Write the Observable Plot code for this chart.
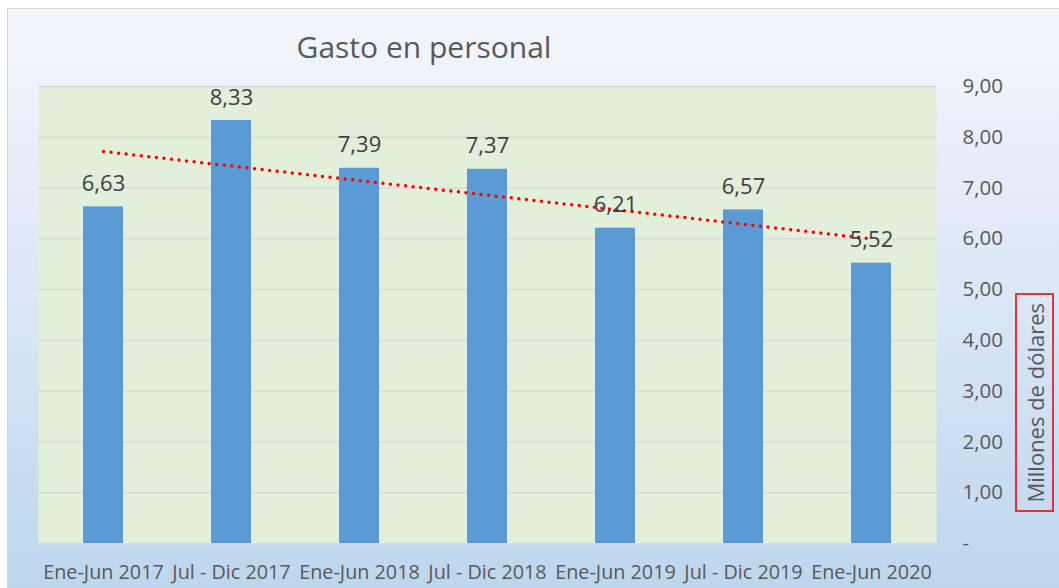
<!DOCTYPE html>
<html>
<head>
<meta charset="utf-8">
<script src="https://cdn.jsdelivr.net/npm/d3@7"></script>
<script src="https://cdn.jsdelivr.net/npm/@observablehq/plot@0.6"></script>
<style>
  html, body { margin: 0; padding: 0; background: #ffffff; }
  #wrap { position: relative; width: 1059px; height: 588px; overflow: hidden; font-family: "Open Sans", sans-serif; }
  #bg { position: absolute; left: 7px; top: 8px; width: 1060px; height: 590px;
        border: 1.5px solid #d6d6d6; box-sizing: border-box;
        background: linear-gradient(to bottom, #f4f6fc 0%, #dde8f6 45%, #bcd6ee 100%); }
  #chart { position: absolute; left: 0; top: 0; }
  #title { position: absolute; left: 0; width: 848px; top: 26px; text-align: center;
           font-size: 30px; color: #595959; }
  #ylabel { position: absolute; left: 1015px; top: 293px; width: 39px; height: 219px;
            border: 2px solid #e5323b; box-sizing: border-box;
            display: flex; align-items: center; justify-content: center; }
  #ylabel span { writing-mode: vertical-rl; transform: rotate(180deg); font-size: 22px; color: #595959; white-space: nowrap; }
</style>
</head>
<body>
<div id="wrap">
  <div id="bg"></div>
  <div id="chart"></div>
  <div id="title">Gasto en personal</div>
  <div id="ylabel"><span>Millones de dólares</span></div>
</div>
<script>
const categories = ["Ene-Jun 2017", "Jul - Dic 2017", "Ene-Jun 2018", "Jul - Dic 2018", "Ene-Jun 2019", "Jul - Dic 2019", "Ene-Jun 2020"];
const values = [6.63, 8.33, 7.39, 7.37, 6.21, 6.57, 5.52];
const trendCategories = ["Ene-Jun 2017", "Ene-Jun 2020"];
const trendValues = [7.72, 6.00];
const yTicks = [0, 1, 2, 3, 4, 5, 6, 7, 8, 9];

const data = categories.map((c, i) => ({cat: c, v: values[i]}));
const trend = trendCategories.map((c, i) => ({cat: c, v: trendValues[i]}));
const fmt = d => d.toFixed(2).replace(".", ",");

const chart = Plot.plot({
  width: 1059,
  height: 588,
  marginLeft: 38,
  marginRight: 123,
  marginTop: 86,
  marginBottom: 45,
  style: {background: "transparent", fontFamily: "'Open Sans', sans-serif", overflow: "visible"},
  x: {domain: categories, paddingInner: 0.688, paddingOuter: 0.344, label: null},
  y: {domain: [0, 9], label: null},
  marks: [
    Plot.frame({fill: "#e2efda", stroke: null}),
    Plot.ruleY(yTicks, {stroke: "#d9d9d9", strokeWidth: 1.5}),
    Plot.barY(data, {x: "cat", y: "v", fill: "#5b9bd5"}),
    Plot.line(trend, {x: "cat", y: "v", stroke: "#ff0000", strokeWidth: 3.5,
      strokeDasharray: "0,7.6", strokeLinecap: "round"}),
    Plot.text(data, {x: "cat", y: "v", text: d => fmt(d.v), dy: -23, fontSize: 22, fill: "#404040"}),
    Plot.axisX({tickSize: 0, tickPadding: 21, fontSize: 19.8, color: "#595959", label: null}),
    Plot.axisY({anchor: "right", ticks: yTicks, tickSize: 0, tickPadding: 26, fontSize: 20.5,
      color: "#595959", textAnchor: "start", label: null,
      tickFormat: d => d === 0 ? "-" : fmt(d)})
  ]
});
document.getElementById("chart").appendChild(chart);
</script>
</body>
</html>
